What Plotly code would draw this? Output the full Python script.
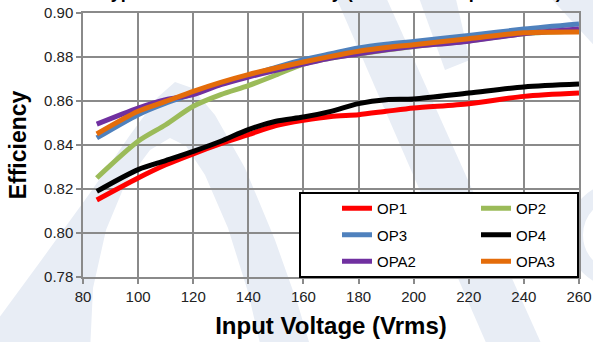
import plotly.graph_objects as go

# ---- data ----
voltage = [85, 100, 110, 120, 130, 140, 150, 160, 170, 180, 190, 200, 220, 240, 260]
op1  = [0.815, 0.825, 0.831, 0.836, 0.8406, 0.8447, 0.8488, 0.8512, 0.8530, 0.8538, 0.8553, 0.8568, 0.8588, 0.8621, 0.8636]
op2  = [0.825, 0.8417, 0.8492, 0.8576, 0.8629, 0.8670, 0.8718, 0.8768, 0.8795, 0.8814, 0.8832, 0.8848, 0.8873, 0.8906, 0.8918]
op3  = [0.8432, 0.8538, 0.8590, 0.8633, 0.8680, 0.8715, 0.8753, 0.8788, 0.8815, 0.8841, 0.8858, 0.8871, 0.8898, 0.8927, 0.8950]
op4  = [0.8189, 0.8288, 0.8329, 0.8371, 0.8417, 0.8470, 0.8508, 0.8527, 0.8553, 0.8588, 0.8606, 0.8609, 0.8636, 0.8664, 0.8677]
opa2 = [0.8495, 0.8568, 0.8606, 0.8629, 0.8674, 0.8709, 0.8740, 0.8768, 0.8795, 0.8814, 0.8833, 0.8848, 0.8872, 0.8906, 0.8927]
opa3 = [0.8450, 0.8553, 0.8598, 0.8644, 0.8685, 0.8720, 0.8750, 0.8777, 0.8803, 0.8826, 0.8843, 0.8856, 0.8883, 0.8910, 0.8914]

series = [
    ("OP1", op1, "#ff0000", "legend"),
    ("OP2", op2, "#9bbb59", "legend2"),
    ("OP3", op3, "#4f81bd", "legend"),
    ("OP4", op4, "#000000", "legend2"),
    ("OPA2", opa2, "#7030a0", "legend"),
    ("OPA3", opa3, "#e46c0a", "legend2"),
]

x_ticks = [80, 100, 120, 140, 160, 180, 200, 220, 240, 260]
y_ticks = [0.78, 0.80, 0.82, 0.84, 0.86, 0.88, 0.90]

# ---- layout geometry ----
W, H = 593, 342
L, R, T, B = 83, 14, 13, 65
PW, PH = W - L - R, H - T - B

def px(xp):
    return (xp - L) / PW

def py(yp):
    return (H - B - yp) / PH

def path(points):
    s = "M " + " L ".join(f"{px(a):.4f},{py(b):.4f}" for a, b in points) + " Z"
    return s

fig = go.Figure()
for name, vals, col, leg in series:
    fig.add_trace(go.Scatter(
        x=voltage, y=vals, name=name, mode="lines",
        line=dict(color=col, width=5, shape="spline", smoothing=0.8),
        legend=leg, legendgroup=name,
    ))

wm = "#e8edf5"
shapes = []
# watermark (faint background logo)
arch = [(-10, 330), (40, 262), (90, 193), (130, 135), (158, 97), (175, 82), (192, 88),
        (215, 115), (245, 168), (275, 240), (298, 305), (312, 352),
        (262, 352), (248, 292), (228, 228), (205, 175), (186, 146), (170, 138),
        (150, 150), (126, 182), (106, 230), (93, 288), (90, 352), (-10, 352)]
bandA = [(335, -5), (385, -5), (545, 352), (490, 352)]
bandB = [(418, -5), (455, -5), (470, 60), (445, 70)]
corner = [(548, -5), (600, -5), (600, 52)]
for poly in (arch, bandA, bandB, corner):
    shapes.append(dict(type="path", xref="paper", yref="paper", path=path(poly),
                       fillcolor=wm, line=dict(width=0), layer="below"))
shapes.append(dict(type="circle", xref="paper", yref="paper",
                   x0=px(575), x1=px(665), y0=py(280), y1=py(190),
                   line=dict(color=wm, width=16), layer="below"))
# legend box
shapes.append(dict(type="rect", xref="paper", yref="paper",
                   x0=px(300), x1=px(578), y0=py(277), y1=py(193),
                   fillcolor="white", line=dict(color="black", width=2), layer="above"))

font_family = "Liberation Sans, Arial, sans-serif"
axis_common = dict(
    showgrid=True, gridcolor="#8a8a8a", gridwidth=1.5,
    showline=True, linecolor="#8a8a8a", linewidth=1.5, mirror=True,
    ticks="outside", tickcolor="#8a8a8a", ticklen=5, tickwidth=1.5,
    zeroline=False, automargin=False,
    tickfont=dict(family=font_family, size=15, color="#222222"),
)

fig.update_layout(
    width=W, height=H, autosize=False,
    margin=dict(l=L, r=R, t=T, b=B),
    paper_bgcolor="white", plot_bgcolor="rgba(0,0,0,0)",
    font=dict(family=font_family, color="#000000"),
    xaxis=dict(range=[80, 260], tickvals=x_ticks, ticktext=[str(v) for v in x_ticks],
               title=dict(text="<b>Input Voltage (Vrms)</b>", font=dict(size=24, family=font_family),
                          standoff=13),
               **axis_common),
    yaxis=dict(range=[0.78, 0.90], tickvals=y_ticks, ticktext=[f"{v:.2f}" for v in y_ticks],
               title=dict(text="<b>Efficiency</b>", font=dict(size=23, family=font_family),
                          standoff=11),
               **axis_common),
    shapes=shapes,
    legend=dict(x=px(337), y=py(192), xanchor="left", yanchor="top",
                bgcolor="rgba(0,0,0,0)", borderwidth=0, tracegroupgap=4,
                font=dict(size=15, family=font_family, color="#000000")),
    legend2=dict(x=px(476), y=py(192), xanchor="left", yanchor="top",
                 bgcolor="rgba(0,0,0,0)", borderwidth=0, tracegroupgap=4,
                 font=dict(size=15, family=font_family, color="#000000")),
    annotations=[dict(text="<b>Typical Converter Efficiency (Full Load Output Power)</b>",
                      xref="paper", yref="paper", x=0.5, y=1, xanchor="center", yanchor="bottom",
                      yshift=9, showarrow=False,
                      font=dict(size=18, family=font_family, color="#000000"))],
)

fig.write_html("out.html", config={"displayModeBar": False},
               post_script="document.body.style.margin='0px';")
